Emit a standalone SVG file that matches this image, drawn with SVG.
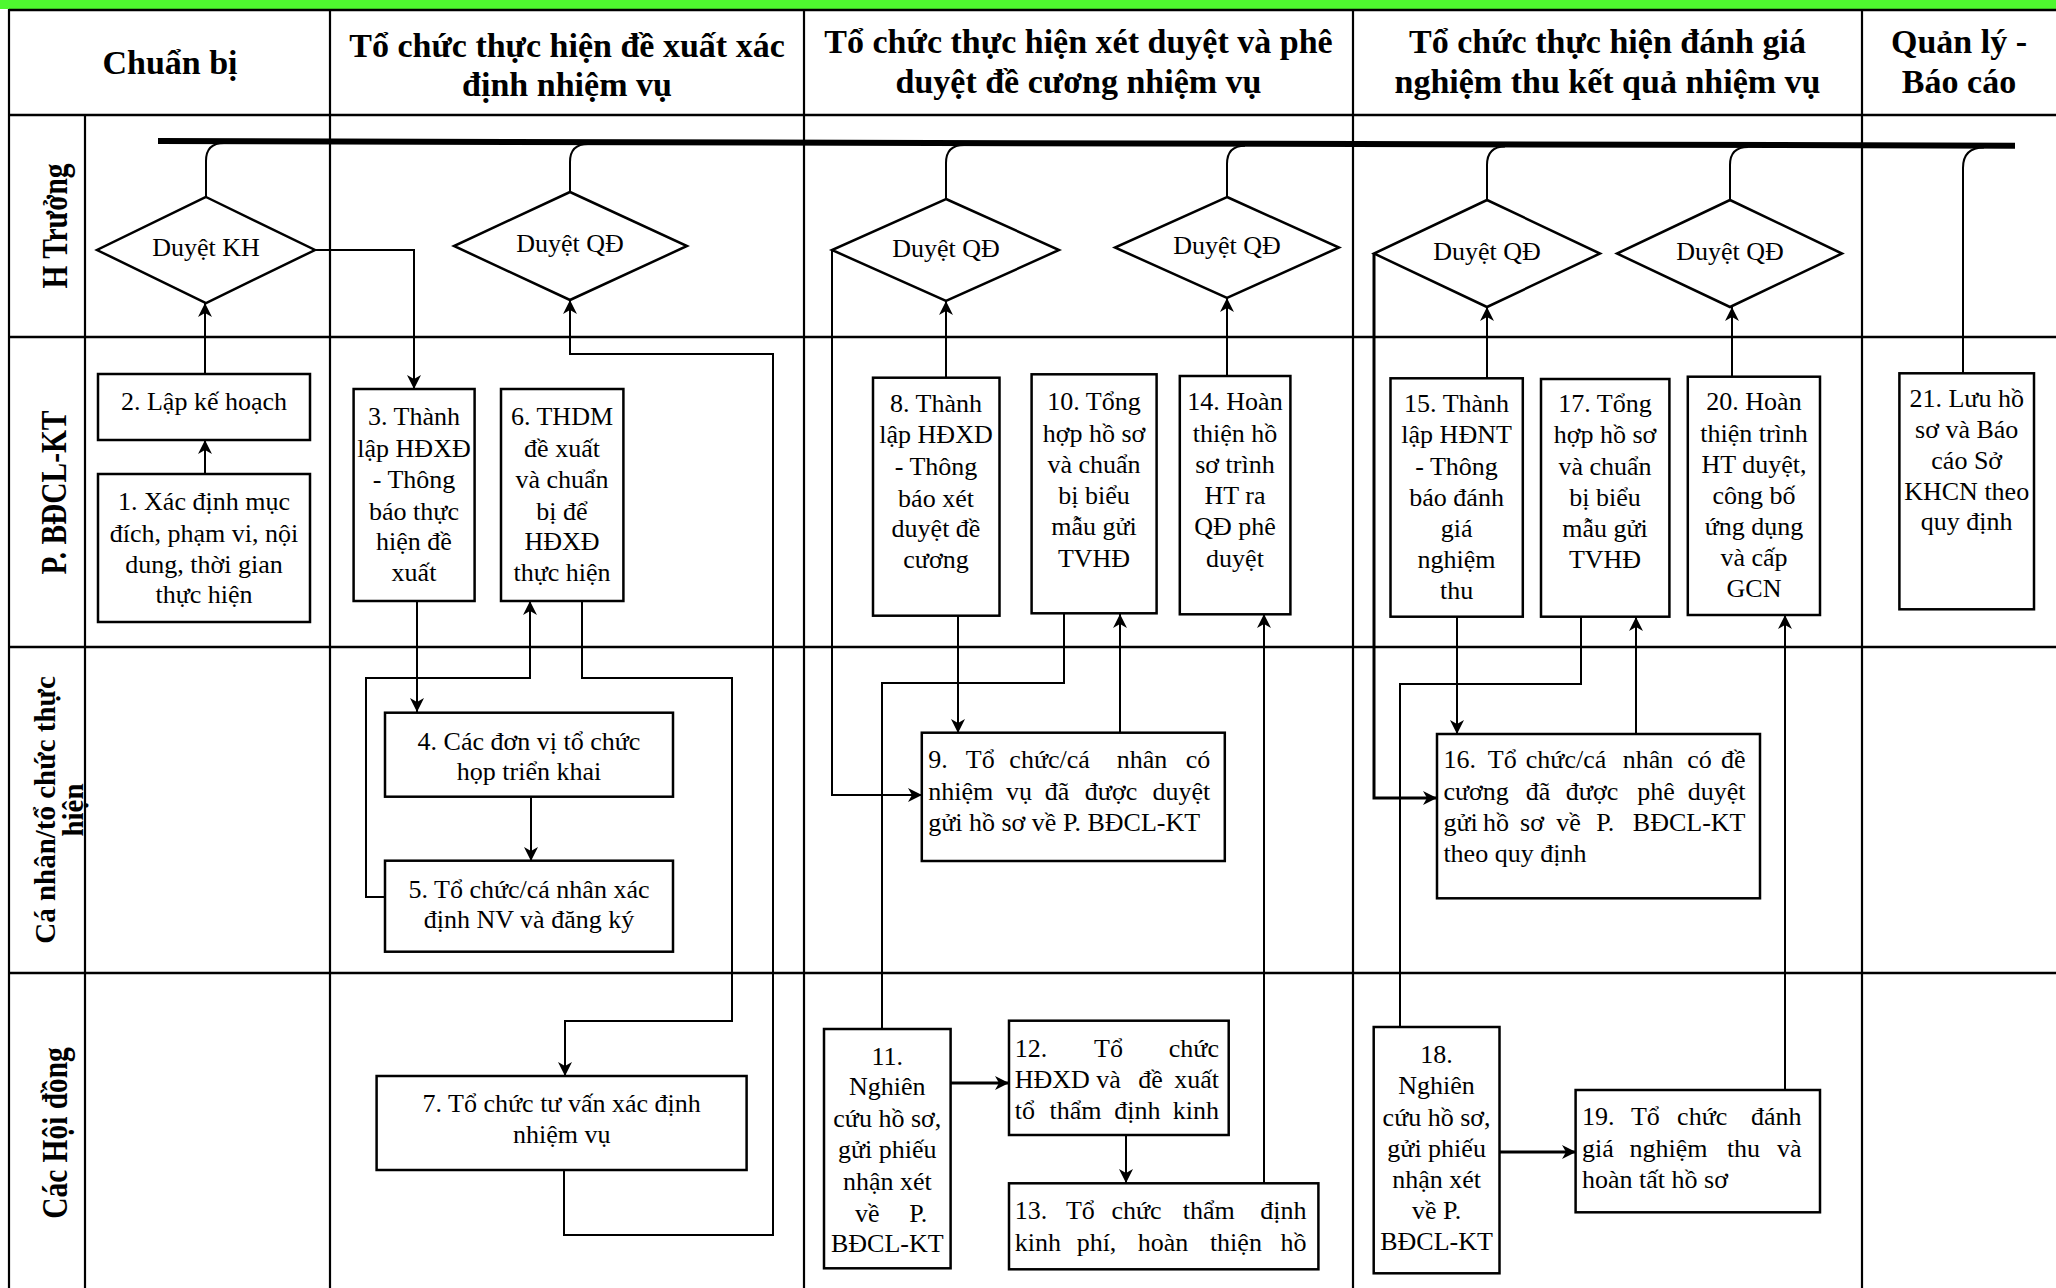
<svg xmlns="http://www.w3.org/2000/svg" width="2056" height="1288" viewBox="0 0 2056 1288">
<style>
.gh{stroke:#000;stroke-width:2.6;fill:none}
.gv{stroke:#000;stroke-width:2.2;fill:none}
.box{fill:#fff;stroke:#000;stroke-width:2.5}
.conn{fill:none;stroke:#000;stroke-width:2}
.bold{stroke-width:3}
.t{font-family:"Liberation Serif","Times New Roman",serif;font-size:26px;fill:#000}
.c{text-anchor:middle}
.m{text-anchor:middle}
.e{text-anchor:end}
.hd{font-family:"Liberation Serif","Times New Roman",serif;font-weight:bold;font-size:34px;text-anchor:middle;fill:#000}
.lane{font-family:"Liberation Serif","Times New Roman",serif;font-weight:bold;font-size:35px;text-anchor:middle;fill:#000}
.lane2{font-family:"Liberation Serif","Times New Roman",serif;font-weight:bold;font-size:29px;text-anchor:middle;fill:#000}
</style>
<defs>
<marker id="ah" viewBox="0 0 14 14" refX="14" refY="7" markerWidth="14" markerHeight="14" markerUnits="userSpaceOnUse" orient="auto"><path d="M0,0 L14,7 L0,14 L4,7 Z" fill="#000"/></marker>
</defs>
<rect x="0" y="0" width="2056" height="1288" fill="#fff"/>
<g id="grid">
<rect x="0" y="0" width="2056" height="9" fill="#4ef82f"/>
<line class="gh" x1="9" y1="10" x2="2056" y2="10"/>
<line class="gh" x1="9" y1="115" x2="2056" y2="115"/>
<line class="gh" x1="9" y1="337" x2="2056" y2="337"/>
<line class="gh" x1="9" y1="647" x2="2056" y2="647"/>
<line class="gh" x1="9" y1="973" x2="2056" y2="973"/>
<line class="gv" x1="9" y1="9" x2="9" y2="1288"/>
<line class="gv" x1="85" y1="115" x2="85" y2="1288"/>
<line class="gv" x1="330" y1="10" x2="330" y2="1288"/>
<line class="gv" x1="804" y1="10" x2="804" y2="1288"/>
<line class="gv" x1="1353" y1="10" x2="1353" y2="1288"/>
<line class="gv" x1="1862" y1="10" x2="1862" y2="1288"/>
</g>
<g id="headers">
<text class="hd" x="170" y="74">Chuẩn bị</text>
<text class="hd" x="567" y="57">Tổ chức thực hiện đề xuất xác</text>
<text class="hd" x="567" y="96">định nhiệm vụ</text>
<text class="hd" x="1078.5" y="53">Tổ chức thực hiện xét duyệt và phê</text>
<text class="hd" x="1078.5" y="93">duyệt đề cương nhiệm vụ</text>
<text class="hd" x="1607.5" y="53">Tổ chức thực hiện đánh giá</text>
<text class="hd" x="1607.5" y="93">nghiệm thu kết quả nhiệm vụ</text>
<text class="hd" x="1959" y="53">Quản lý -</text>
<text class="hd" x="1959" y="93">Báo cáo</text>
</g>
<g id="lanes">
<text class="lane" transform="translate(67,226) rotate(-90) scale(0.84,1)">H Trưởng</text>
<text class="lane" transform="translate(66,492.5) rotate(-90) scale(0.84,1)">P. BĐCL-KT</text>
<text class="lane2" transform="translate(55,810) rotate(-90)">Cá nhân/tổ chức thực</text>
<text class="lane2" transform="translate(83,810) rotate(-90)">hiện</text>
<text class="lane" transform="translate(67,1133) rotate(-90) scale(0.84,1)">Các Hội đồng</text>
</g>
<g id="connectors">
<line x1="158" y1="141" x2="2015" y2="145.7" stroke="#000" stroke-width="6"/>
<path class="conn" d="M206,197 V161 Q206,143 224,143"/>
<path class="conn" d="M570,192 V162 Q570,144 588,144"/>
<path class="conn" d="M946,199 V163 Q946,145 964,145"/>
<path class="conn" d="M1227,197 V164 Q1227,145.7 1245,145.7"/>
<path class="conn" d="M1487,200 V165 Q1487,146.4 1505,146.4"/>
<path class="conn" d="M1730,200 V165 Q1730,147 1748,147"/>
<path class="conn" d="M1963,373 V168 Q1963,147.6 1984,147.6"/>
<path class="conn" d="M205,474 V440" marker-end="url(#ah)"/>
<path class="conn" d="M205,374 V303" marker-end="url(#ah)"/>
<path class="conn" d="M315,250 H414 V389" marker-end="url(#ah)"/>
<path class="conn" d="M417,601 V712" marker-end="url(#ah)"/>
<path class="conn" d="M531,797 V861" marker-end="url(#ah)"/>
<path class="conn" d="M385,897 H366 V678 H530 V601" marker-end="url(#ah)"/>
<path class="conn" d="M582,601 V678 H732 V1021 H565 V1076" marker-end="url(#ah)"/>
<path class="conn" d="M564,1170 V1235 H773 V354 H570 V300" marker-end="url(#ah)"/>
<path class="conn" d="M946,378 V301" marker-end="url(#ah)"/>
<path class="conn" d="M832,250 V795 H922" marker-end="url(#ah)"/>
<path class="conn" d="M958,616 V733" marker-end="url(#ah)"/>
<path class="conn" d="M1120,733 V614" marker-end="url(#ah)"/>
<path class="conn" d="M1064,614 V683 H882 V1029"/>
<path class="conn bold" d="M951,1083 H1009" marker-end="url(#ah)"/>
<path class="conn" d="M1126,1135 V1183" marker-end="url(#ah)"/>
<path class="conn" d="M1264,1183 V614" marker-end="url(#ah)"/>
<path class="conn" d="M1227,376 V298" marker-end="url(#ah)"/>
<path class="conn" d="M1487,378 V307" marker-end="url(#ah)"/>
<path class="conn bold" d="M1374,254 V798 H1437" marker-end="url(#ah)"/>
<path class="conn" d="M1457,617 V734" marker-end="url(#ah)"/>
<path class="conn" d="M1581,617 V684 H1400 V1027"/>
<path class="conn" d="M1636,734 V617" marker-end="url(#ah)"/>
<path class="conn bold" d="M1500,1152 H1576" marker-end="url(#ah)"/>
<path class="conn" d="M1785,1090 V615" marker-end="url(#ah)"/>
<path class="conn" d="M1732,377 V307" marker-end="url(#ah)"/>
</g>
<g id="dKH"><polygon class="box" points="206,197 315,250 206,303 97,250"/><text class="t c" x="206" y="256">Duyệt KH</text></g>
<g id="dQD1"><polygon class="box" points="570,192 687,246 570,300 454,246"/><text class="t c" x="570" y="252">Duyệt QĐ</text></g>
<g id="dQD2"><polygon class="box" points="946,199 1059,250 946,301 832,250"/><text class="t c" x="946" y="257">Duyệt QĐ</text></g>
<g id="dQD3"><polygon class="box" points="1227,197 1339,247.5 1227,298 1115,247.5"/><text class="t c" x="1227" y="254">Duyệt QĐ</text></g>
<g id="dQD4"><polygon class="box" points="1487,200 1600,253.5 1487,307 1374,253.5"/><text class="t c" x="1487" y="260">Duyệt QĐ</text></g>
<g id="dQD5"><polygon class="box" points="1730,200 1842,253.5 1730,307 1617,253.5"/><text class="t c" x="1730" y="260">Duyệt QĐ</text></g>
<g id="n1"><rect class="box" x="98" y="474" width="212" height="148"/>
<text class="t c" x="204"><tspan x="204" y="510">1. Xác định mục</tspan><tspan x="204" y="541.7">đích, phạm vi, nội</tspan><tspan x="204" y="572.7">dung, thời gian</tspan><tspan x="204" y="603.3">thực hiện</tspan></text></g>
<g id="n2"><rect class="box" x="98" y="374" width="212" height="66"/><text class="t c" x="204" y="410">2. Lập kế hoạch</text></g>
<g id="n3"><rect class="box" x="353.6" y="389" width="121" height="212"/>
<text class="t c"><tspan x="414" y="425">3. Thành</tspan><tspan x="414" y="456.7">lập HĐXĐ</tspan><tspan x="414" y="488.3">- Thông</tspan><tspan x="414" y="520">báo thực</tspan><tspan x="414" y="550">hiện đề</tspan><tspan x="414" y="580.7">xuất</tspan></text></g>
<g id="n6"><rect class="box" x="501" y="389" width="122.4" height="212"/>
<text class="t c"><tspan x="562" y="425">6. THDM</tspan><tspan x="562" y="456.7">đề xuất</tspan><tspan x="562" y="488.3">và chuẩn</tspan><tspan x="562" y="520">bị để</tspan><tspan x="562" y="550">HĐXĐ</tspan><tspan x="562" y="580.7">thực hiện</tspan></text></g>
<g id="n4"><rect class="box" x="385" y="712.7" width="288" height="84"/>
<text class="t c"><tspan x="529" y="750">4. Các đơn vị tổ chức</tspan><tspan x="529" y="780">họp triển khai</tspan></text></g>
<g id="n5"><rect class="box" x="385" y="860.7" width="288" height="91"/>
<text class="t c"><tspan x="529" y="898">5. Tổ chức/cá nhân xác</tspan><tspan x="529" y="928">định NV và đăng ký</tspan></text></g>
<g id="n7"><rect class="box" x="376.6" y="1076" width="370" height="94"/>
<text class="t c"><tspan x="561.7" y="1111.7">7. Tổ chức tư vấn xác định</tspan><tspan x="561.7" y="1142.7">nhiệm vụ</tspan></text></g>
<g id="n8"><rect class="box" x="873" y="377.7" width="126.5" height="238"/>
<text class="t c"><tspan x="936" y="411.7">8. Thành</tspan><tspan x="936" y="443.3">lập HĐXD</tspan><tspan x="936" y="475">- Thông</tspan><tspan x="936" y="506.7">báo xét</tspan><tspan x="936" y="537.3">duyệt đề</tspan><tspan x="936" y="568.3">cương</tspan></text></g>
<g id="n10"><rect class="box" x="1031.6" y="374.3" width="125" height="239"/>
<text class="t c"><tspan x="1094" y="410">10. Tổng</tspan><tspan x="1094" y="441.7">hợp hồ sơ</tspan><tspan x="1094" y="473.3">và chuẩn</tspan><tspan x="1094" y="504">bị biểu</tspan><tspan x="1094" y="535">mẫu gửi</tspan><tspan x="1094" y="566.7">TVHĐ</tspan></text></g>
<g id="n14"><rect class="box" x="1179.8" y="376" width="110.6" height="238.3"/>
<text class="t c"><tspan x="1235" y="410">14. Hoàn</tspan><tspan x="1235" y="441.7">thiện hồ</tspan><tspan x="1235" y="473.3">sơ trình</tspan><tspan x="1235" y="504">HT ra</tspan><tspan x="1235" y="535">QĐ phê</tspan><tspan x="1235" y="566.7">duyệt</tspan></text></g>
<g id="n15"><rect class="box" x="1390.5" y="378.3" width="132.3" height="238.4"/>
<text class="t c"><tspan x="1456.6" y="411.7">15. Thành</tspan><tspan x="1456.6" y="443.3">lập HĐNT</tspan><tspan x="1456.6" y="475">- Thông</tspan><tspan x="1456.6" y="506">báo đánh</tspan><tspan x="1456.6" y="536.7">giá</tspan><tspan x="1456.6" y="567.7">nghiệm</tspan><tspan x="1456.6" y="599.3">thu</tspan></text></g>
<g id="n17"><rect class="box" x="1541" y="379" width="128.4" height="237.7"/>
<text class="t c"><tspan x="1605" y="411.7">17. Tổng</tspan><tspan x="1605" y="443.3">hợp hồ sơ</tspan><tspan x="1605" y="475">và chuẩn</tspan><tspan x="1605" y="506">bị biểu</tspan><tspan x="1605" y="536.7">mẫu gửi</tspan><tspan x="1605" y="567.7">TVHĐ</tspan></text></g>
<g id="n20"><rect class="box" x="1687.8" y="376.7" width="132.2" height="238.3"/>
<text class="t c"><tspan x="1754" y="410">20. Hoàn</tspan><tspan x="1754" y="441.7">thiện trình</tspan><tspan x="1754" y="473.3">HT duyệt,</tspan><tspan x="1754" y="504">công bố</tspan><tspan x="1754" y="535">ứng dụng</tspan><tspan x="1754" y="566">và cấp</tspan><tspan x="1754" y="596.7">GCN</tspan></text></g>
<g id="n21"><rect class="box" x="1899.4" y="373.3" width="134.6" height="236"/>
<text class="t c"><tspan x="1966.7" y="407.3">21. Lưu hồ</tspan><tspan x="1966.7" y="438.3">sơ và Báo</tspan><tspan x="1966.7" y="469.3">cáo Sở</tspan><tspan x="1966.7" y="500">KHCN theo</tspan><tspan x="1966.7" y="530">quy định</tspan></text></g>
<g id="n9"><rect class="box" x="921.8" y="732.7" width="303" height="128.3"/>
<text class="t"><tspan x="928.2" y="768.3">9.</tspan><tspan class="m" x="980.3" y="768.3">Tổ</tspan><tspan class="m" x="1049.6" y="768.3">chức/cá</tspan><tspan class="m" x="1142.1" y="768.3">nhân</tspan><tspan class="e" x="1210.3" y="768.3">có</tspan></text>
<text class="t"><tspan x="928.2" y="800">nhiệm</tspan><tspan class="m" x="1019" y="800">vụ</tspan><tspan class="m" x="1057" y="800">đã</tspan><tspan class="m" x="1111" y="800">được</tspan><tspan class="e" x="1210.3" y="800">duyệt</tspan></text>
<text class="t" x="928.2" y="830.7">gửi hồ sơ về P. BĐCL-KT</text></g>
<g id="n16"><rect class="box" x="1437" y="734" width="323" height="164.3"/>
<text class="t"><tspan x="1443.4" y="768.3">16.</tspan><tspan class="m" x="1502.3" y="768.3">Tổ</tspan><tspan class="m" x="1566" y="768.3">chức/cá</tspan><tspan class="m" x="1648" y="768.3">nhân</tspan><tspan class="m" x="1699.4" y="768.3">có</tspan><tspan class="e" x="1745.5" y="768.3">đề</tspan></text>
<text class="t"><tspan x="1443.4" y="800">cương</tspan><tspan class="m" x="1538" y="800">đã</tspan><tspan class="m" x="1592" y="800">được</tspan><tspan class="m" x="1656" y="800">phê</tspan><tspan class="e" x="1745.5" y="800">duyệt</tspan></text>
<text class="t"><tspan x="1443.4" y="830.7">gửi</tspan><tspan class="m" x="1496" y="830.7">hồ</tspan><tspan class="m" x="1532" y="830.7">sơ</tspan><tspan class="m" x="1568.4" y="830.7">về</tspan><tspan class="m" x="1605.3" y="830.7">P.</tspan><tspan class="e" x="1745.5" y="830.7">BĐCL-KT</tspan></text>
<text class="t" x="1443.4" y="861.7">theo quy định</text></g>
<g id="n11"><rect class="box" x="824" y="1029" width="126.6" height="239.3"/>
<text class="t c"><tspan x="887.3" y="1065">11.</tspan><tspan x="887.3" y="1095">Nghiên</tspan><tspan x="887.3" y="1126.7">cứu hồ sơ,</tspan><tspan x="887.3" y="1158.3">gửi phiếu</tspan><tspan x="887.3" y="1190">nhận xét</tspan><tspan x="867.3" y="1221.7">về</tspan><tspan x="918.2" y="1221.7">P.</tspan><tspan x="887.3" y="1251.7">BĐCL-KT</tspan></text></g>
<g id="n12"><rect class="box" x="1009" y="1020.7" width="219.7" height="114.3"/>
<text class="t"><tspan x="1014.7" y="1056.7">12.</tspan><tspan class="m" x="1108.5" y="1056.7">Tổ</tspan><tspan class="e" x="1219" y="1056.7">chức</tspan></text>
<text class="t"><tspan x="1014.7" y="1088.3">HĐXD</tspan><tspan class="m" x="1108.5" y="1088.3">và</tspan><tspan class="m" x="1150.6" y="1088.3">đề</tspan><tspan class="e" x="1219" y="1088.3">xuất</tspan></text>
<text class="t"><tspan x="1014.7" y="1119.3">tổ</tspan><tspan class="m" x="1075.6" y="1119.3">thẩm</tspan><tspan class="m" x="1137.3" y="1119.3">định</tspan><tspan class="e" x="1219" y="1119.3">kinh</tspan></text></g>
<g id="n13"><rect class="box" x="1009" y="1183.3" width="309.4" height="86"/>
<text class="t"><tspan x="1014.7" y="1219.3">13.</tspan><tspan class="m" x="1080.4" y="1219.3">Tổ</tspan><tspan class="m" x="1136.5" y="1219.3">chức</tspan><tspan class="m" x="1208.7" y="1219.3">thẩm</tspan><tspan class="e" x="1306.4" y="1219.3">định</tspan></text>
<text class="t"><tspan x="1014.7" y="1251">kinh</tspan><tspan class="m" x="1096.5" y="1251">phí,</tspan><tspan class="m" x="1163" y="1251">hoàn</tspan><tspan class="m" x="1235.9" y="1251">thiện</tspan><tspan class="e" x="1306.4" y="1251">hồ</tspan></text></g>
<g id="n18"><rect class="box" x="1373.7" y="1027" width="125.8" height="246.3"/>
<text class="t c"><tspan x="1436.6" y="1063.3">18.</tspan><tspan x="1436.6" y="1094">Nghiên</tspan><tspan x="1436.6" y="1125.7">cứu hồ sơ,</tspan><tspan x="1436.6" y="1156.7">gửi phiếu</tspan><tspan x="1436.6" y="1188.3">nhận xét</tspan><tspan x="1436.6" y="1219.3">về P.</tspan><tspan x="1436.6" y="1250">BĐCL-KT</tspan></text></g>
<g id="n19"><rect class="box" x="1575.6" y="1090" width="244.4" height="122.3"/>
<text class="t"><tspan x="1582" y="1125">19.</tspan><tspan class="m" x="1645.4" y="1125">Tổ</tspan><tspan class="m" x="1702.2" y="1125">chức</tspan><tspan class="e" x="1801.6" y="1125">đánh</tspan></text>
<text class="t"><tspan x="1582" y="1156.7">giá</tspan><tspan class="m" x="1668.6" y="1156.7">nghiệm</tspan><tspan class="m" x="1743.5" y="1156.7">thu</tspan><tspan class="e" x="1801.6" y="1156.7">và</tspan></text>
<text class="t" x="1582" y="1188.3">hoàn tất hồ sơ</text></g>
</svg>
